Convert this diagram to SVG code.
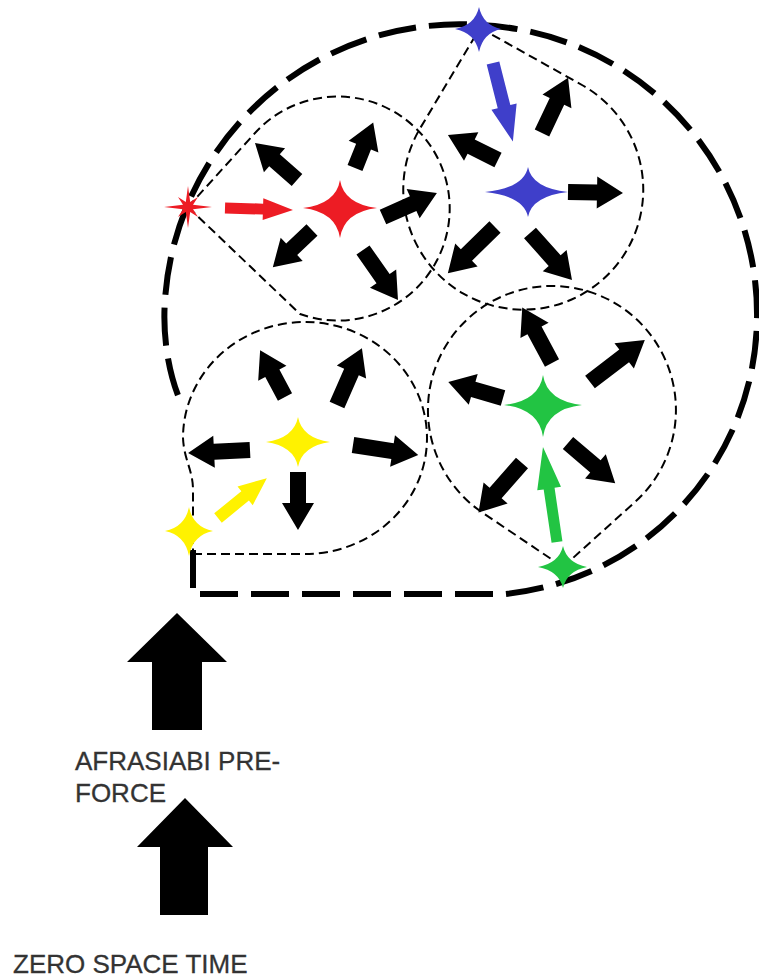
<svg xmlns="http://www.w3.org/2000/svg" width="759" height="979" viewBox="0 0 759 979">
<style>
.thick{fill:none;stroke:#000;stroke-width:6;stroke-dasharray:38 13}
.thin{fill:none;stroke:#000;stroke-width:2;stroke-dasharray:9 5}
.ba{fill:#000}
.red{fill:#ed1c24}
.blue{fill:#3f3fca}
.yellow{fill:#fff200}
.green{fill:#22c443}
.lbl{font-family:"Liberation Sans",Arial,sans-serif;font-size:26px;fill:#333;stroke:#333;stroke-width:0.3}
</style>
<rect width="759" height="979" fill="#fff"/>
<g id="boundary">
<path class="thick" d="M193 550L193 594L505 594A280 280 0 0 0 757 320A290 290 0 0 0 480 25A295 295 0 0 0 165 300C162 340 170 380 183 407"/>
</g>
<g id="cell-red">
<path class="thin" d="M188 207L255 133A112 112 0 1 1 300 314Z"/>
<path class="ba" transform="translate(297,180) rotate(-138.6)" d="M0-8H30V-16L56 0L30 16V8H0Z"/>
<path class="ba" transform="translate(355,168) rotate(-68.2)" d="M0-8H23V-16L49 0L23 16V8H0Z"/>
<path class="ba" transform="translate(383,217) rotate(-24)" d="M0-8H33V-16L59 0L33 16V8H0Z"/>
<path class="ba" transform="translate(312,230) rotate(136.5)" d="M0-8H28V-16L54 0L28 16V8H0Z"/>
<path class="ba" transform="translate(363,250) rotate(55)" d="M0-8H35V-16L61 0L35 16V8H0Z"/>
<path class="red" transform="translate(340,208)" d="M-37 0Q-4-4 0-28Q4-4 37 0Q4 4 0 30Q-4 4-37 0Z"/>
</g>
<g id="cell-blue">
<path class="thin" d="M480 28L582 85A120 120 0 1 1 420 128.5Z"/>
<path class="ba" transform="translate(542,133) rotate(-64.7)" d="M0-8H35V-16L61 0L35 16V8H0Z"/>
<path class="ba" transform="translate(498,160) rotate(-153.4)" d="M0-8H30V-16L56 0L30 16V8H0Z"/>
<path class="ba" transform="translate(568,192) rotate(1)" d="M0-8H29V-16L55 0L29 16V8H0Z"/>
<path class="ba" transform="translate(495,227) rotate(135.6)" d="M0-8H40V-16L66 0L40 16V8H0Z"/>
<path class="ba" transform="translate(530,233) rotate(48.2)" d="M0-8H37V-16L63 0L37 16V8H0Z"/>
<path class="blue" transform="translate(528,192)" d="M-43 0Q-4-4 0-25Q4-4 40 0Q4 4 0 25Q-4 4-43 0Z"/>
</g>
<g id="cell-yellow">
<path class="thin" d="M193 554L305 554A122 116 0 1 0 183 438C184 460 193 470 193 490L193 554"/>
<path class="ba" transform="translate(285,397) rotate(-118)" d="M0-8H27V-16L53 0L27 16V8H0Z"/>
<path class="ba" transform="translate(337,405) rotate(-66.3)" d="M0-8H36V-16L62 0L36 16V8H0Z"/>
<path class="ba" transform="translate(250,450) rotate(177.2)" d="M0-8H36V-16L62 0L36 16V8H0Z"/>
<path class="ba" transform="translate(353,445) rotate(8.7)" d="M0-8H40V-16L66 0L40 16V8H0Z"/>
<path class="ba" transform="translate(298,472) rotate(90)" d="M0-8H31V-16L58 0L31 16V8H0Z"/>
<path class="yellow" transform="translate(298,442)" d="M-32 0Q-4-4 0-25Q4-4 32 0Q4 4 0 25Q-4 4-32 0Z"/>
</g>
<g id="cell-green">
<path class="thin" d="M563 567L635 502A124 124 0 1 0 483 513Z"/>
<path class="ba" transform="translate(552,363) rotate(-118.2)" d="M0-8H37V-16L63 0L37 16V8H0Z"/>
<path class="ba" transform="translate(590,382) rotate(-37.4)" d="M0-8H43V-16L69 0L43 16V8H0Z"/>
<path class="ba" transform="translate(503,398) rotate(-163.8)" d="M0-8H31V-16L57 0L31 16V8H0Z"/>
<path class="ba" transform="translate(568,443) rotate(40.4)" d="M0-8H36V-16L62 0L36 16V8H0Z"/>
<path class="ba" transform="translate(522,463) rotate(131.3)" d="M0-8H40V-16L66 0L40 16V8H0Z"/>
<path class="green" transform="translate(543,405)" d="M-39 0Q-4-4 0-30Q4-4 39 0Q4 4 0 32Q-4 4-39 0Z"/>
</g>
<g id="connectors">
<path class="red" transform="translate(225,208) rotate(1.7)" d="M0-5.5H38V-11L68 0L38 11V5.5H0Z"/>
<path class="blue" transform="translate(493,63) rotate(75.8)" d="M0-6.5H45V-13L81 0L45 13V6.5H0Z"/>
<path class="yellow" transform="translate(218,518) rotate(-39.2)" d="M0-6H35V-12L63 0L35 12V6H0Z"/>
<path class="green" transform="translate(557,542) rotate(-98.4)" d="M0-5.5H54V-12L96 0L54 12V5.5H0Z"/>
</g>
<g id="source-red">
<polygon class="red" transform="translate(188,207)" points="24,0 5,2.2 10,10 2.2,5 0,21 -2.2,5 -10,10 -5,2.2 -24,0 -5,-2.2 -10,-10 -2.2,-5 0,-21 2.2,-5 10,-10 5,-2.2"/>
</g>
<g id="source-blue">
<path class="blue" transform="translate(479,29)" d="M-24 0Q-4-4 0-22Q4-4 22 0Q4 4 0 23Q-4 4-24 0Z"/>
</g>
<g id="source-yellow">
<path class="yellow" transform="translate(189,531)" d="M-24 0Q-4-4 0-24Q4-4 24 0Q4 4 0 25Q-4 4-24 0Z"/>
</g>
<g id="source-green">
<path class="green" transform="translate(563,567)" d="M-25 0Q-4-4 0-21Q4-4 24 0Q4 4 0 21Q-4 4-25 0Z"/>
</g>
<g id="afrasiabi-preforce">
<path fill="#000" d="M177 613L227 662H202V730H152V662H127Z"/>
<text class="lbl" x="75" y="770">AFRASIABI PRE-</text>
<text class="lbl" x="75" y="802">FORCE</text>
</g>
<g id="zero-space-time">
<path fill="#000" d="M185 798L233 847H208V915H160V847H137Z"/>
<text class="lbl" x="13" y="973">ZERO SPACE TIME</text>
</g>
</svg>
